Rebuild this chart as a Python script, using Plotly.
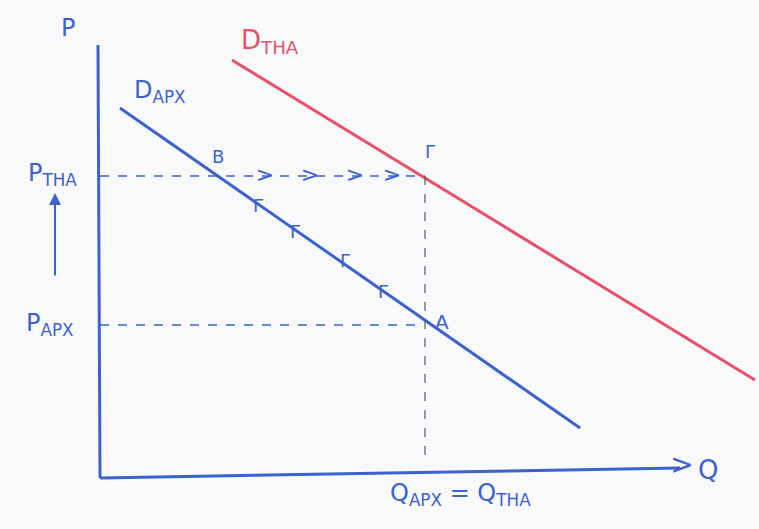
import plotly.graph_objects as go

# Data (Q horizontal, P vertical; origin at axes corner)
d_apx_q = [20, 480]
d_apx_p = [369, 49]
d_tha_q = [132, 655]
d_tha_p = [417, 97]
p_tha = 301
p_apx = 152
q_star = 325
x_axis_q = [0, 580]
x_axis_p = [-1, 9]
y_axis_q = [0, -2]
y_axis_p = [-1, 432]
chev_q = [165, 210, 255, 292]
move_q = [158, 195, 245, 283]
move_p = [270, 244, 215, 184]

BLUE = "#3d62d0"
RED = "#e8506a"
FONT = "DejaVu Sans"

fig = go.Figure()

# axes (hand-drawn)
fig.add_trace(go.Scatter(x=x_axis_q, y=x_axis_p, mode="lines",
                         line=dict(color=BLUE, width=3), hoverinfo="skip"))
fig.add_trace(go.Scatter(x=y_axis_q, y=y_axis_p, mode="lines",
                         line=dict(color=BLUE, width=3), hoverinfo="skip"))
# x-axis arrow head
fig.add_trace(go.Scatter(x=[x_axis_q[1] + 2], y=[x_axis_p[1] + 1], mode="text", text=[">"],
                         textfont=dict(color=BLUE, size=28, family=FONT),
                         textposition="middle center", hoverinfo="skip"))

# demand curves
fig.add_trace(go.Scatter(x=d_apx_q, y=d_apx_p, mode="lines",
                         line=dict(color=BLUE, width=3), hoverinfo="skip"))
fig.add_trace(go.Scatter(x=d_tha_q, y=d_tha_p, mode="lines",
                         line=dict(color=RED, width=3), hoverinfo="skip"))

# dashed guides
fig.add_trace(go.Scatter(x=[0, q_star], y=[p_tha, p_tha], mode="lines",
                         line=dict(color=BLUE, width=1.5, dash="dash"), hoverinfo="skip"))
fig.add_trace(go.Scatter(x=[0, q_star - 5], y=[p_apx, p_apx], mode="lines",
                         line=dict(color=BLUE, width=1.5, dash="dash"), hoverinfo="skip"))
fig.add_trace(go.Scatter(x=[q_star, q_star], y=[p_tha, 17], mode="lines",
                         line=dict(color="#555a6a", width=1.2, dash="dash"), hoverinfo="skip"))

# chevrons along P_THA
fig.add_trace(go.Scatter(x=chev_q, y=[p_tha] * len(chev_q), mode="text",
                         text=[">"] * len(chev_q),
                         textfont=dict(color=BLUE, size=22, family=FONT),
                         textposition="middle center", hoverinfo="skip"))
# movement marks along D_APX
fig.add_trace(go.Scatter(x=move_q, y=move_p, mode="text",
                         text=["Γ"] * len(move_q),
                         textfont=dict(color=BLUE, size=18, family=FONT),
                         textposition="middle center", hoverinfo="skip"))

labels = [
    (-32, 449, "P", BLUE, 24),
    (608, 7, "Q", BLUE, 26),
    (170, 436, "D<sub>THA</sub>", RED, 26),
    (60, 386, "D<sub>APX</sub>", BLUE, 24),
    (118, 321, "B", BLUE, 18),
    (342, 155, "A", BLUE, 20),
    (330, 326, "Γ", BLUE, 18),
    (-48, 303, "P<sub>THA</sub>", BLUE, 24),
    (-50, 153, "P<sub>APX</sub>", BLUE, 24),
    (360, -17, "Q<sub>APX</sub> = Q<sub>THA</sub>", BLUE, 24),
]
for x, y, t, c, s in labels:
    fig.add_annotation(x=x, y=y, text=t, showarrow=False,
                       font=dict(color=c, size=s, family=FONT))

# upward arrow at left
fig.add_annotation(x=-45, y=284, ax=-45, ay=200, xref="x", yref="y",
                   axref="x", ayref="y", showarrow=True, arrowhead=2,
                   arrowsize=1.2, arrowwidth=2, arrowcolor=BLUE, text="")

fig.update_layout(
    width=759, height=529,
    margin=dict(l=0, r=0, t=0, b=0),
    paper_bgcolor="#f8f9fb", plot_bgcolor="#f8f9fb",
    showlegend=False,
    xaxis=dict(range=[-100, 659], visible=False, fixedrange=True),
    yaxis=dict(range=[-52, 477], visible=False, fixedrange=True),
)

fig.write_html("out.html", config={"displayModeBar": False},
               post_script="document.body.style.margin='0';document.body.style.background='#f8f9fb';")
